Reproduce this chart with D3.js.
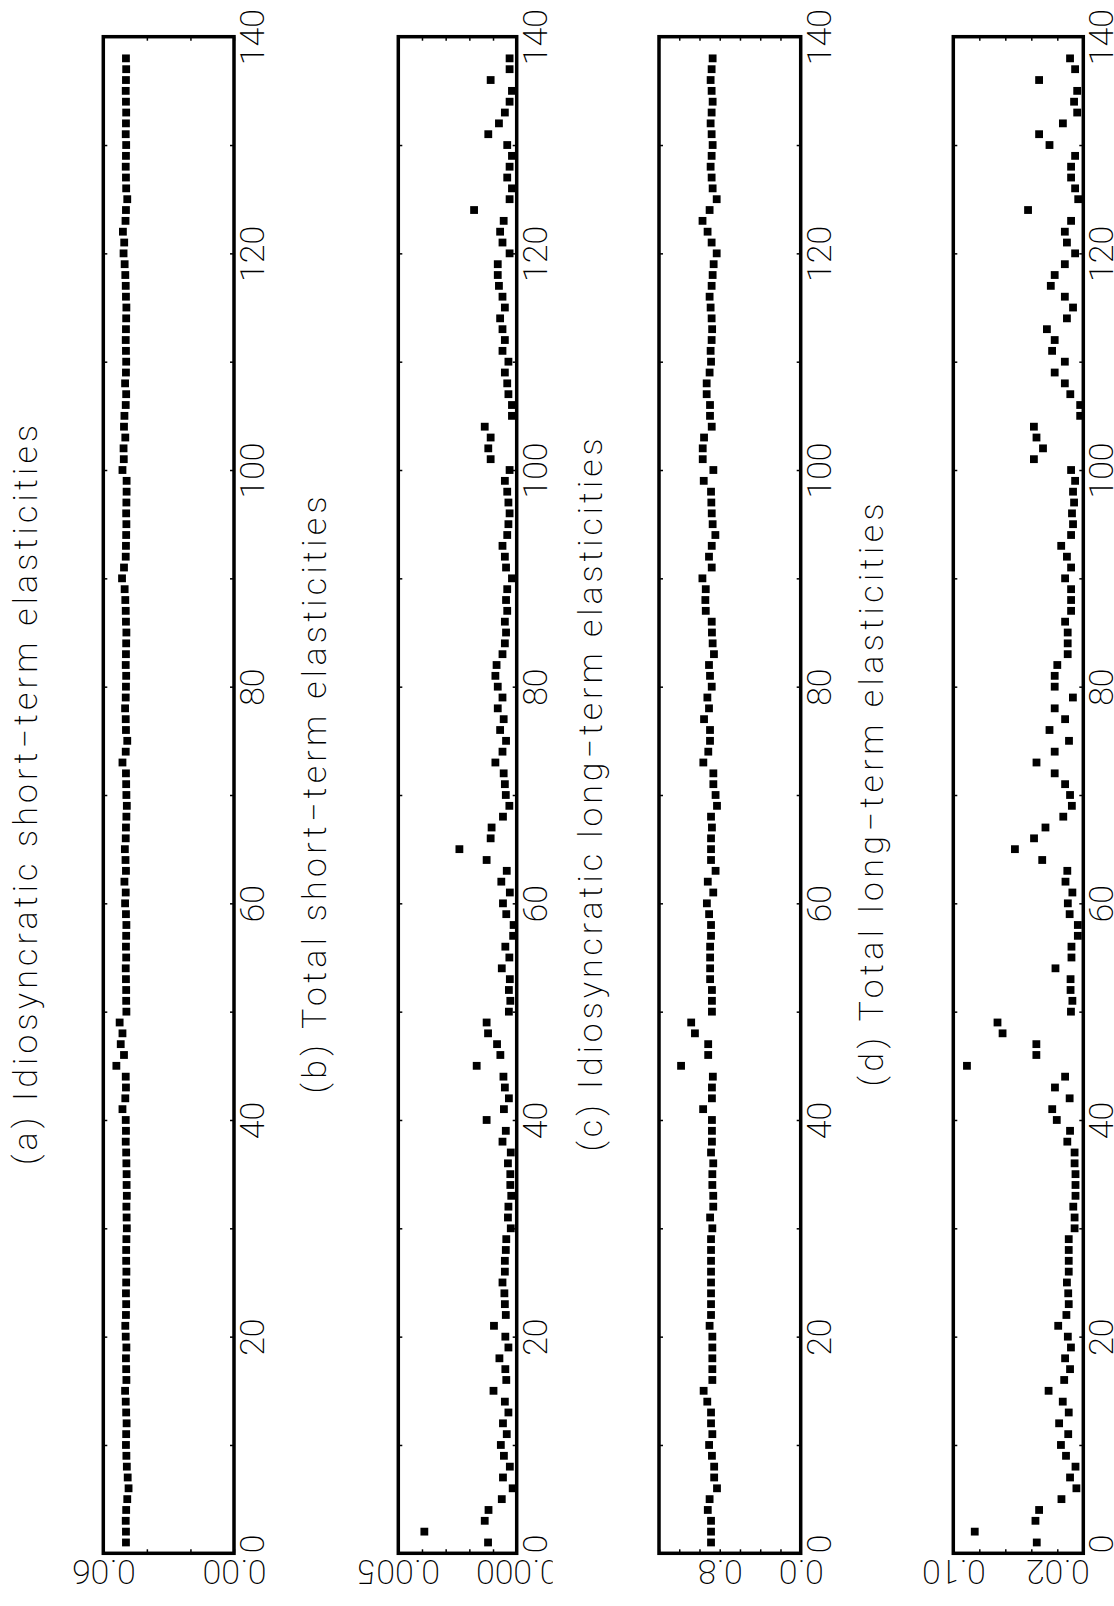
<!DOCTYPE html>
<html>
<head>
<meta charset="utf-8">
<script src="https://cdn.jsdelivr.net/npm/d3@7"></script>
<style>
body{margin:0;background:#fff}
text{font-family:Roboto,"Liberation Sans",sans-serif;font-weight:200;fill:#000}
</style>
</head>
<body>
<svg id="fig" width="1114" height="1606"></svg>
<script>
// index of each point (1..138)
const idx = d3.range(1, 139)
const xTicks = d3.range(0, 141, 10)

const titles = [
  "(a) Idiosyncratic short−term elasticities",
  "(b) Total short−term elasticities",
  "(c) Idiosyncratic long−term elasticities",
  "(d) Total long−term elasticities"
]

const seriesA = [
  0.0496,0.0496,0.0497,0.0495,0.0490,0.0484,0.0488,0.0492,0.0494,0.0496,
  0.0495,0.0493,0.0495,0.0497,0.0500,0.0494,0.0495,0.0496,0.0494,0.0497,
  0.0499,0.0496,0.0495,0.0496,0.0495,0.0494,0.0495,0.0495,0.0494,0.0492,
  0.0493,0.0494,0.0492,0.0493,0.0493,0.0494,0.0495,0.0497,0.0496,0.0497,
  0.0512,0.0499,0.0496,0.0497,0.0540,0.0505,0.0520,0.0512,0.0525,0.0494,
  0.0495,0.0495,0.0496,0.0497,0.0495,0.0496,0.0495,0.0494,0.0496,0.0500,
  0.0497,0.0503,0.0496,0.0498,0.0501,0.0497,0.0496,0.0494,0.0492,0.0494,
  0.0495,0.0496,0.0512,0.0497,0.0490,0.0496,0.0497,0.0500,0.0497,0.0496,
  0.0495,0.0497,0.0496,0.0495,0.0494,0.0496,0.0497,0.0499,0.0502,0.0514,
  0.0505,0.0497,0.0496,0.0495,0.0494,0.0495,0.0494,0.0493,0.0493,0.0512,
  0.0506,0.0507,0.0499,0.0505,0.0503,0.0497,0.0495,0.0500,0.0496,0.0495,
  0.0496,0.0497,0.0496,0.0495,0.0494,0.0496,0.0497,0.0499,0.0502,0.0507,
  0.0504,0.0510,0.0498,0.0496,0.0490,0.0495,0.0496,0.0497,0.0496,0.0495,
  0.0497,0.0496,0.0495,0.0496,0.0497,0.0496,0.0495,0.0496
]

const seriesB = [
  0.00121,0.00390,0.00135,0.00119,0.00063,0.00017,0.00058,0.00029,0.00054,0.00067,
  0.00042,0.00058,0.00035,0.00050,0.00098,0.00044,0.00048,0.00073,0.00035,0.00048,
  0.00096,0.00046,0.00050,0.00052,0.00060,0.00050,0.00050,0.00046,0.00044,0.00025,
  0.00037,0.00035,0.00023,0.00027,0.00027,0.00037,0.00025,0.00060,0.00046,0.00127,
  0.00054,0.00033,0.00050,0.00056,0.00169,0.00069,0.00083,0.00121,0.00127,0.00033,
  0.00027,0.00033,0.00029,0.00063,0.00031,0.00048,0.00015,0.00013,0.00044,0.00058,
  0.00029,0.00065,0.00042,0.00127,0.00242,0.00110,0.00106,0.00058,0.00031,0.00046,
  0.00050,0.00055,0.00090,0.00060,0.00045,0.00070,0.00055,0.00080,0.00060,0.00080,
  0.00090,0.00085,0.00060,0.00050,0.00045,0.00050,0.00040,0.00045,0.00040,0.00020,
  0.00045,0.00050,0.00060,0.00040,0.00035,0.00030,0.00035,0.00040,0.00050,0.00030,
  0.00110,0.00120,0.00110,0.00135,0.00020,0.00020,0.00035,0.00040,0.00050,0.00035,
  0.00060,0.00050,0.00060,0.00070,0.00050,0.00060,0.00075,0.00080,0.00080,0.00030,
  0.00060,0.00070,0.00055,0.00180,0.00030,0.00020,0.00040,0.00030,0.00020,0.00040,
  0.00120,0.00075,0.00050,0.00030,0.00020,0.00110,0.00030,0.00030
]

const seriesC = [
  0.886,0.886,0.886,0.918,0.900,0.827,0.855,0.855,0.877,0.905,
  0.873,0.886,0.886,0.923,0.959,0.873,0.873,0.873,0.873,0.873,
  0.900,0.886,0.886,0.886,0.886,0.886,0.886,0.886,0.886,0.873,
  0.895,0.864,0.864,0.873,0.873,0.864,0.886,0.877,0.877,0.877,
  0.964,0.877,0.877,0.868,1.182,0.914,0.914,1.045,1.082,0.877,
  0.877,0.877,0.895,0.895,0.895,0.895,0.886,0.886,0.905,0.927,
  0.864,0.918,0.841,0.886,0.886,0.886,0.877,0.886,0.827,0.841,
  0.863,0.863,0.962,0.913,0.896,0.896,0.955,0.906,0.922,0.879,
  0.896,0.906,0.857,0.870,0.877,0.879,0.938,0.942,0.938,0.971,
  0.879,0.906,0.879,0.843,0.870,0.879,0.883,0.886,0.958,0.863,
  0.968,0.968,0.955,0.879,0.896,0.896,0.929,0.929,0.900,0.886,
  0.890,0.880,0.875,0.880,0.890,0.900,0.880,0.870,0.860,0.830,
  0.880,0.920,0.970,0.900,0.830,0.870,0.880,0.890,0.880,0.870,
  0.880,0.890,0.880,0.870,0.880,0.890,0.880,0.870
]

const seriesD = [
  0.0358,0.0835,0.0368,0.0340,0.0168,0.0053,0.0102,0.0060,0.0133,0.0172,
  0.0116,0.0186,0.0112,0.0158,0.0267,0.0147,0.0102,0.0140,0.0095,0.0119,
  0.0193,0.0130,0.0112,0.0116,0.0126,0.0112,0.0112,0.0112,0.0112,0.0067,
  0.0067,0.0077,0.0060,0.0060,0.0060,0.0067,0.0067,0.0123,0.0102,0.0204,
  0.0239,0.0105,0.0218,0.0140,0.0895,0.0361,0.0361,0.0621,0.0660,0.0095,
  0.0084,0.0098,0.0098,0.0214,0.0091,0.0091,0.0042,0.0042,0.0105,0.0119,
  0.0084,0.0137,0.0123,0.0316,0.0526,0.0379,0.0291,0.0154,0.0088,0.0102,
  0.0140,0.0220,0.0360,0.0220,0.0110,0.0260,0.0140,0.0220,0.0080,0.0220,
  0.0220,0.0200,0.0120,0.0120,0.0120,0.0140,0.0094,0.0094,0.0094,0.0140,
  0.0094,0.0126,0.0170,0.0094,0.0079,0.0087,0.0071,0.0079,0.0063,0.0094,
  0.0380,0.0310,0.0360,0.0380,0.0024,0.0024,0.0100,0.0142,0.0220,0.0142,
  0.0240,0.0220,0.0280,0.0126,0.0079,0.0142,0.0250,0.0220,0.0142,0.0063,
  0.0126,0.0142,0.0094,0.0425,0.0039,0.0063,0.0094,0.0094,0.0063,0.0260,
  0.0340,0.0157,0.0047,0.0071,0.0047,0.0340,0.0063,0.0102
]

// value axes: domain, tick values, labelled ticks
const domA = [0, 0.06],  ticksA = [0, 0.02, 0.04, 0.06], labA = {0: "0.00", 0.06: "0.06"}
const domB = [0, 0.005], ticksB = [0, 0.001, 0.002, 0.003, 0.004, 0.005], labB = {0: "0.000", 0.005: "0.005"}
const domC = [0, 1.4],   ticksC = [0, 0.2, 0.4, 0.6, 0.8, 1.0, 1.2, 1.4], labC = {0: "0.0", 0.8: "0.8"}
const domD = [0, 0.10],  ticksD = [0, 0.02, 0.04, 0.06, 0.08, 0.10], labD = {0.02: "0.02", 0.1: "0.10"}

const yTop = 36.7, yBottom = 1553.3

const panels = [
  {title: titles[0], data: seriesA, dom: domA, ticks: ticksA, lab: labA, left: 103.3, right: 234,   tx: 37,  tlen: 740},
  {title: titles[1], data: seriesB, dom: domB, ticks: ticksB, lab: labB, left: 398.3, right: 516.7, tx: 326, tlen: 597, clip: 552.7},
  {title: titles[2], data: seriesC, dom: domC, ticks: ticksC, lab: labC, left: 659,   right: 800.7, tx: 602, tlen: 713},
  {title: titles[3], data: seriesD, dom: domD, ticks: ticksD, lab: labD, left: 953.3, right: 1083.3, tx: 883, tlen: 583}
]

const svg = d3.select("#fig")
const xs = d3.scaleLinear().domain([0, 140]).range([yBottom, yTop])
const fs = 34

function styleAxis(ax) {
  ax.attr("font-family", null).attr("font-size", null)
  ax.select(".domain").remove()
  ax.selectAll("line").attr("stroke", "#000").attr("stroke-width", 1.5)
}

panels.forEach((p, k) => {
  const g = svg.append("g").attr("class", "panel")
  const ys = d3.scaleLinear().domain(p.dom).range([p.right, p.left])
  const fmt = d => { for (const key in p.lab) if (Math.abs(+key - d) < 1e-9) return p.lab[key]; return "" }

  // index axis, right side, with labels
  const axR = g.append("g").attr("transform", `translate(${p.right},0)`)
    .call(d3.axisRight(xs).tickValues(xTicks).tickSize(-4).tickFormat(d => d % 20 === 0 ? d : ""))
  styleAxis(axR)
  axR.selectAll("text")
    .attr("transform", "rotate(-90)")
    .attr("x", d => d === 0 ? 10 : 0)
    .attr("y", 30)
    .attr("dy", null)
    .attr("text-anchor", "middle")
    .attr("font-size", fs)

  // index axis, left side, ticks only
  const axL = g.append("g").attr("transform", `translate(${p.left},0)`)
    .call(d3.axisLeft(xs).tickValues(xTicks).tickSize(-4).tickFormat(""))
  styleAxis(axL)

  // value axis, bottom, upside-down labels
  const axB = g.append("g").attr("transform", `translate(0,${yBottom})`)
    .call(d3.axisBottom(ys).tickValues(p.ticks).tickSize(-4).tickFormat(fmt))
  styleAxis(axB)
  axB.selectAll("text")
    .attr("transform", "rotate(180)")
    .attr("x", 0)
    .attr("y", -7)
    .attr("dy", null)
    .attr("text-anchor", "middle")
    .attr("font-size", fs)
  if (p.clip) {
    svg.append("clipPath").attr("id", "clip" + k)
      .append("rect").attr("x", 0).attr("y", -1606).attr("width", p.clip).attr("height", 3212)
    axB.attr("clip-path", `url(#clip${k})`)
  }

  // value axis, top, ticks only
  const axT = g.append("g").attr("transform", `translate(0,${yTop})`)
    .call(d3.axisTop(ys).tickValues(p.ticks).tickSize(-4).tickFormat(""))
  styleAxis(axT)

  // frame
  g.append("rect")
    .attr("x", p.left).attr("y", yTop)
    .attr("width", p.right - p.left).attr("height", yBottom - yTop)
    .attr("fill", "none").attr("stroke", "#000").attr("stroke-width", 3.5)

  // points
  const sq = 7.8
  g.selectAll(".pt").data(p.data).enter().append("rect")
    .attr("class", "pt")
    .attr("x", d => ys(d) - sq / 2)
    .attr("y", (d, i) => xs(idx[i]) - sq / 2)
    .attr("width", sq).attr("height", sq)
    .attr("fill", "#000")

  // title
  g.append("text")
    .attr("transform", `translate(${p.tx},${(yTop + yBottom) / 2}) rotate(-90)`)
    .attr("text-anchor", "middle")
    .attr("font-size", fs)
    .attr("textLength", p.tlen)
    .attr("lengthAdjust", "spacing")
    .text(p.title)
})
</script>
</body>
</html>
